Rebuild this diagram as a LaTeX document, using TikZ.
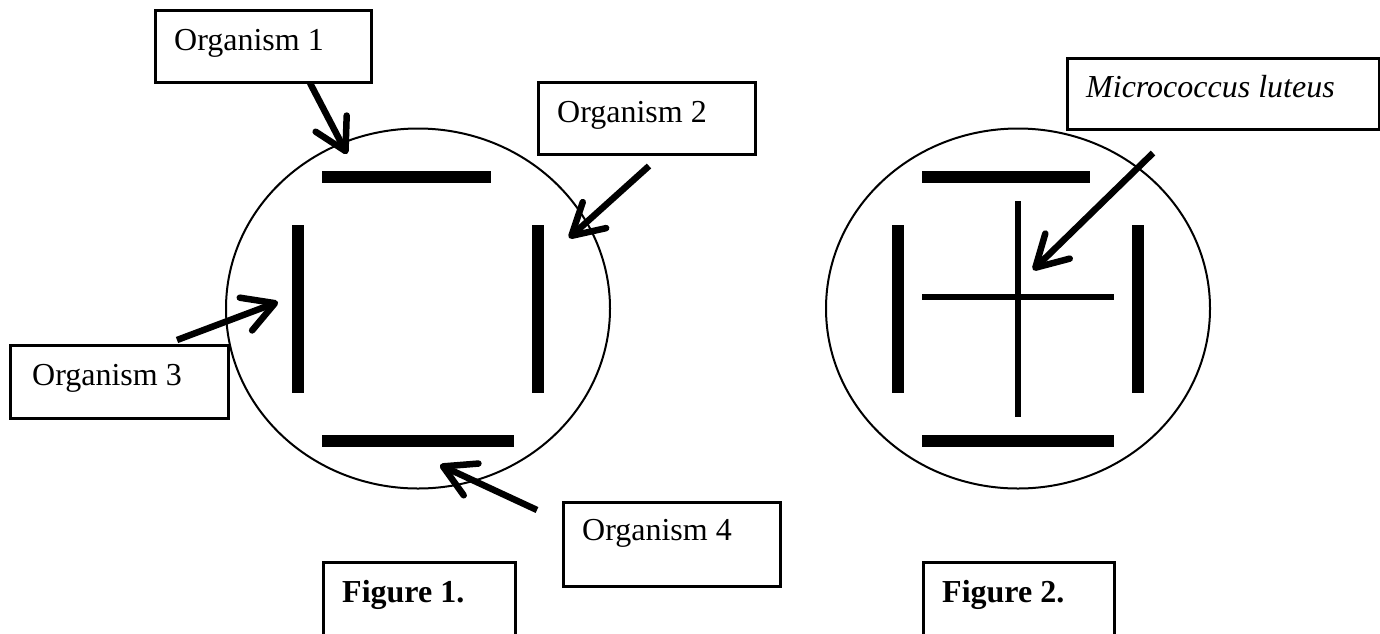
\documentclass[tikz,border=0pt]{standalone}
\usepackage{fontspec}
\setmainfont{Liberation Serif}
\usetikzlibrary{arrows.meta}
\begin{document}
\begin{tikzpicture}[x=1pt,y=-1pt,
  lbl/.style={draw, line width=2.5pt, anchor=north west, inner sep=0pt},
  txt/.style={anchor=base west, inner sep=0pt, font=\fontsize{32}{38}\selectfont},
  pointer/.style={line width=6.5pt, -{Straight Barb[length=31pt,width=35pt,round]}},
  dish/.style={line width=2pt},
  streak/.style={fill=black},
  crossline/.style={line width=6pt},
]
\useasboundingbox (0,0) rectangle (1380,633);

% ---------- Figure 1: plate with four streaks ----------
\draw[dish] (418,308.5) ellipse [x radius=192, y radius=180];
\fill[streak] (322,171) rectangle (491,183);
\fill[streak] (292,225) rectangle (304,393);
\fill[streak] (532,225) rectangle (544,393);
\fill[streak] (322,435) rectangle (514,447);

% label boxes
\node[lbl, minimum width=216pt, minimum height=72pt] (box1) at (154,9) {};
\node[txt] (t1) at (174,50) {Organism 1};
\node[lbl, minimum width=217pt, minimum height=72pt] (box2) at (537,81) {};
\node[txt] (t2) at (557,122) {Organism 2};
\node[lbl, minimum width=218pt, minimum height=73pt] (box3) at (9,344) {};
\node[txt] (t3) at (32,385) {Organism 3};
\node[lbl, minimum width=217pt, minimum height=84pt] (box4) at (562,501) {};
\node[txt] (t4) at (582,540) {Organism 4};
\node[lbl, minimum width=192pt, minimum height=74pt] (fig1box) at (322,561) {};
\node[txt] (fig1) at (342,602) {\bfseries Figure 1.};

% pointers
\coordinate (a1s) at (310,83);   \coordinate (a1e) at (347,154);
\coordinate (a2s) at (649,166);  \coordinate (a2e) at (569,238);
\coordinate (a3s) at (177,340);  \coordinate (a3e) at (278,302);
\coordinate (a4s) at (537,510);  \coordinate (a4e) at (440,465);
\draw[pointer] (a1s) -- (a1e);
\draw[pointer] (a2s) -- (a2e);
\draw[pointer] (a3s) -- (a3e);
\draw[pointer] (a4s) -- (a4e);

% ---------- Figure 2: plate with cross streak ----------
\draw[dish] (1018,308.5) ellipse [x radius=192, y radius=180];
\fill[streak] (922,171) rectangle (1090,183);
\fill[streak] (892,225) rectangle (904,393);
\fill[streak] (1132,225) rectangle (1144,393);
\fill[streak] (922,435) rectangle (1114,447);
\draw[crossline] (1018,201) -- (1018,417);
\draw[crossline] (922,297) -- (1114,297);

\node[lbl, minimum width=312pt, minimum height=71pt] (box5) at (1066,57) {};
\node[txt] (t5) at (1086,97) {\itshape Micrococcus luteus};
\node[lbl, minimum width=191pt, minimum height=74pt] (fig2box) at (922,561) {};
\node[txt] (fig2) at (942,602) {\bfseries Figure 2.};

\coordinate (a5s) at (1153,153); \coordinate (a5e) at (1033,270);
\draw[pointer] (a5s) -- (a5e);
\end{tikzpicture}
\end{document}
